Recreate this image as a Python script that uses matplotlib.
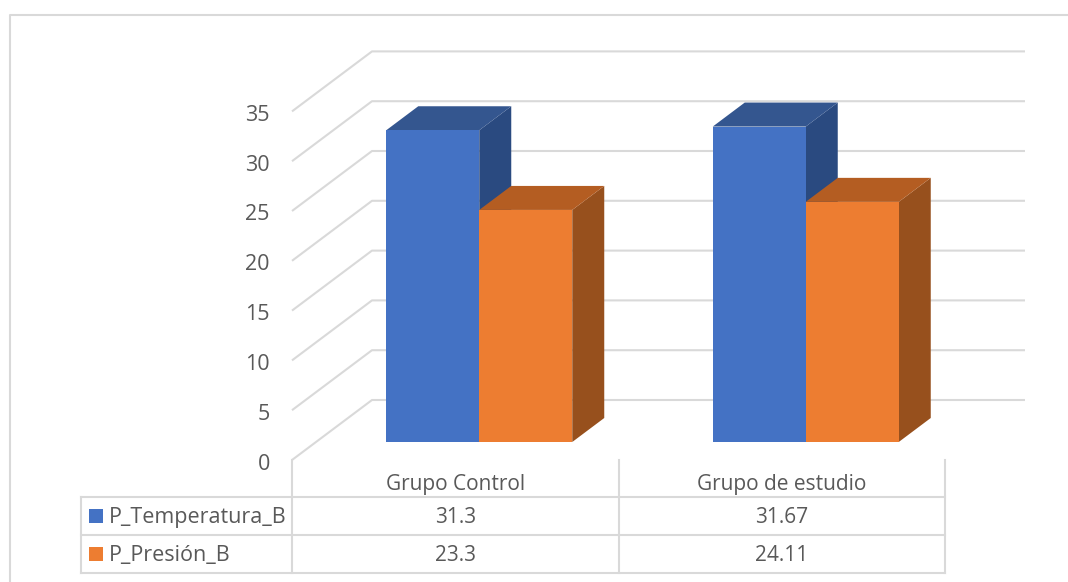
import matplotlib
matplotlib.use("Agg")
import matplotlib.pyplot as plt
from matplotlib.patches import Polygon, Rectangle
from matplotlib.transforms import ScaledTranslation

plt.rcParams['font.family'] = ['Open Sans', 'DejaVu Sans']

grupos = ["Grupo Control", "Grupo de estudio"]
series = ["P_Temperatura_B", "P_Presión_B"]
temperatura = [31.3, 31.67]
presion = [23.3, 24.11]
temperatura_txt = ["31.3", "31.67"]
presion_txt = ["23.3", "24.11"]
yticks = [0, 5, 10, 15, 20, 25, 30, 35]

W, H = 1068, 582
GRIS = "#D9D9D9"
TEXTO = "#595959"
colores = [("#4472C4", "#34568F", "#2A4A80"), ("#ED7D31", "#B45D22", "#97501D")]

fig = plt.figure(figsize=(W / 100, H / 100), dpi=100)

# capa en pixeles para marco y tabla
bg = fig.add_axes([0, 0, 1, 1])
bg.set_xlim(0, W)
bg.set_ylim(H, 0)
bg.axis("off")
bg.plot([10, 10, W], [H, 15, 15], color=GRIS, lw=1.5)

# ejes del plano frontal
ax = fig.add_axes([292 / W, 1 - 460 / H, 653 / W, 348.6 / H])
ax.patch.set_alpha(0)
ax.set_xlim(0, 2)
ax.set_ylim(0, 35)
for s in ax.spines.values():
    s.set_visible(False)
ax.set_xticks([])
ax.set_yticks(yticks)
ax.tick_params(axis="y", length=0, pad=16, labelsize=15.5, labelcolor=TEXTO)
for t in ax.get_yticklabels():
    t.set_transform(t.get_transform() + ScaledTranslation(0, -1.5 / 100, fig.dpi_scale_trans))

# proyeccion oblicua: z va de 0 (frente) a 1 (fondo)
DX = 80 / 326.5
DY = 60 / 9.96


def proy(x, y, z):
    return (x + z * DX, y + z * DY)


for v in yticks:
    pts = [proy(0, v, 0), proy(0, v, 1), proy(2, v, 1)]
    ax.plot([p[0] for p in pts], [p[1] for p in pts], color=GRIS, lw=1.5,
            clip_on=False, zorder=1, solid_capstyle="butt")

ANCHO = 93 / 326.5
Z0, Z1 = 0.3, 0.7


def barra(x0, alto, cols):
    x1 = x0 + ANCHO
    ax.add_patch(Polygon([proy(x1, 0, Z0), proy(x1, 0, Z1), proy(x1, alto, Z1), proy(x1, alto, Z0)],
                         fc=cols[2], ec="none", clip_on=False, zorder=3))
    ax.add_patch(Polygon([proy(x0, alto, Z0), proy(x1, alto, Z0), proy(x1, alto, Z1), proy(x0, alto, Z1)],
                         fc=cols[1], ec="none", clip_on=False, zorder=3))
    ax.add_patch(Polygon([proy(x0, 0, Z0), proy(x1, 0, Z0), proy(x1, alto, Z0), proy(x0, alto, Z0)],
                         fc=cols[0], ec="none", clip_on=False, zorder=4))


for i in range(len(grupos)):
    centro = i + 0.5
    barra(centro - ANCHO, temperatura[i], colores[0])
    barra(centro, presion[i], colores[1])

# tabla de datos
cols_x = [292, 618.5, 945]
filas_y = [497, 535, 573]
for x in cols_x:
    bg.plot([x, x], [460, 573], color=GRIS, lw=1.5)
bg.plot([81, 81], [497, 573], color=GRIS, lw=1.5)
for y in filas_y:
    bg.plot([81, 945], [y, y], color=GRIS, lw=1.5)

fs = 15
for i, g in enumerate(grupos):
    xc = (cols_x[i] + cols_x[i + 1]) / 2
    bg.text(xc, 484.5, g, ha="center", va="center", fontsize=fs, color=TEXTO)
    bg.text(xc, 517.5, temperatura_txt[i], ha="center", va="center", fontsize=fs, color=TEXTO)
    bg.text(xc, 555.5, presion_txt[i], ha="center", va="center", fontsize=fs, color=TEXTO)

for i, nombre in enumerate(series):
    yc = 516 + i * 38
    bg.add_patch(Rectangle((89, yc - 7), 14, 14, fc=colores[i][0], ec="none"))
    bg.text(109, yc + 1.5, nombre, ha="left", va="center", fontsize=15.5, color=TEXTO)

fig.savefig("out.png", dpi=100, facecolor="white")
